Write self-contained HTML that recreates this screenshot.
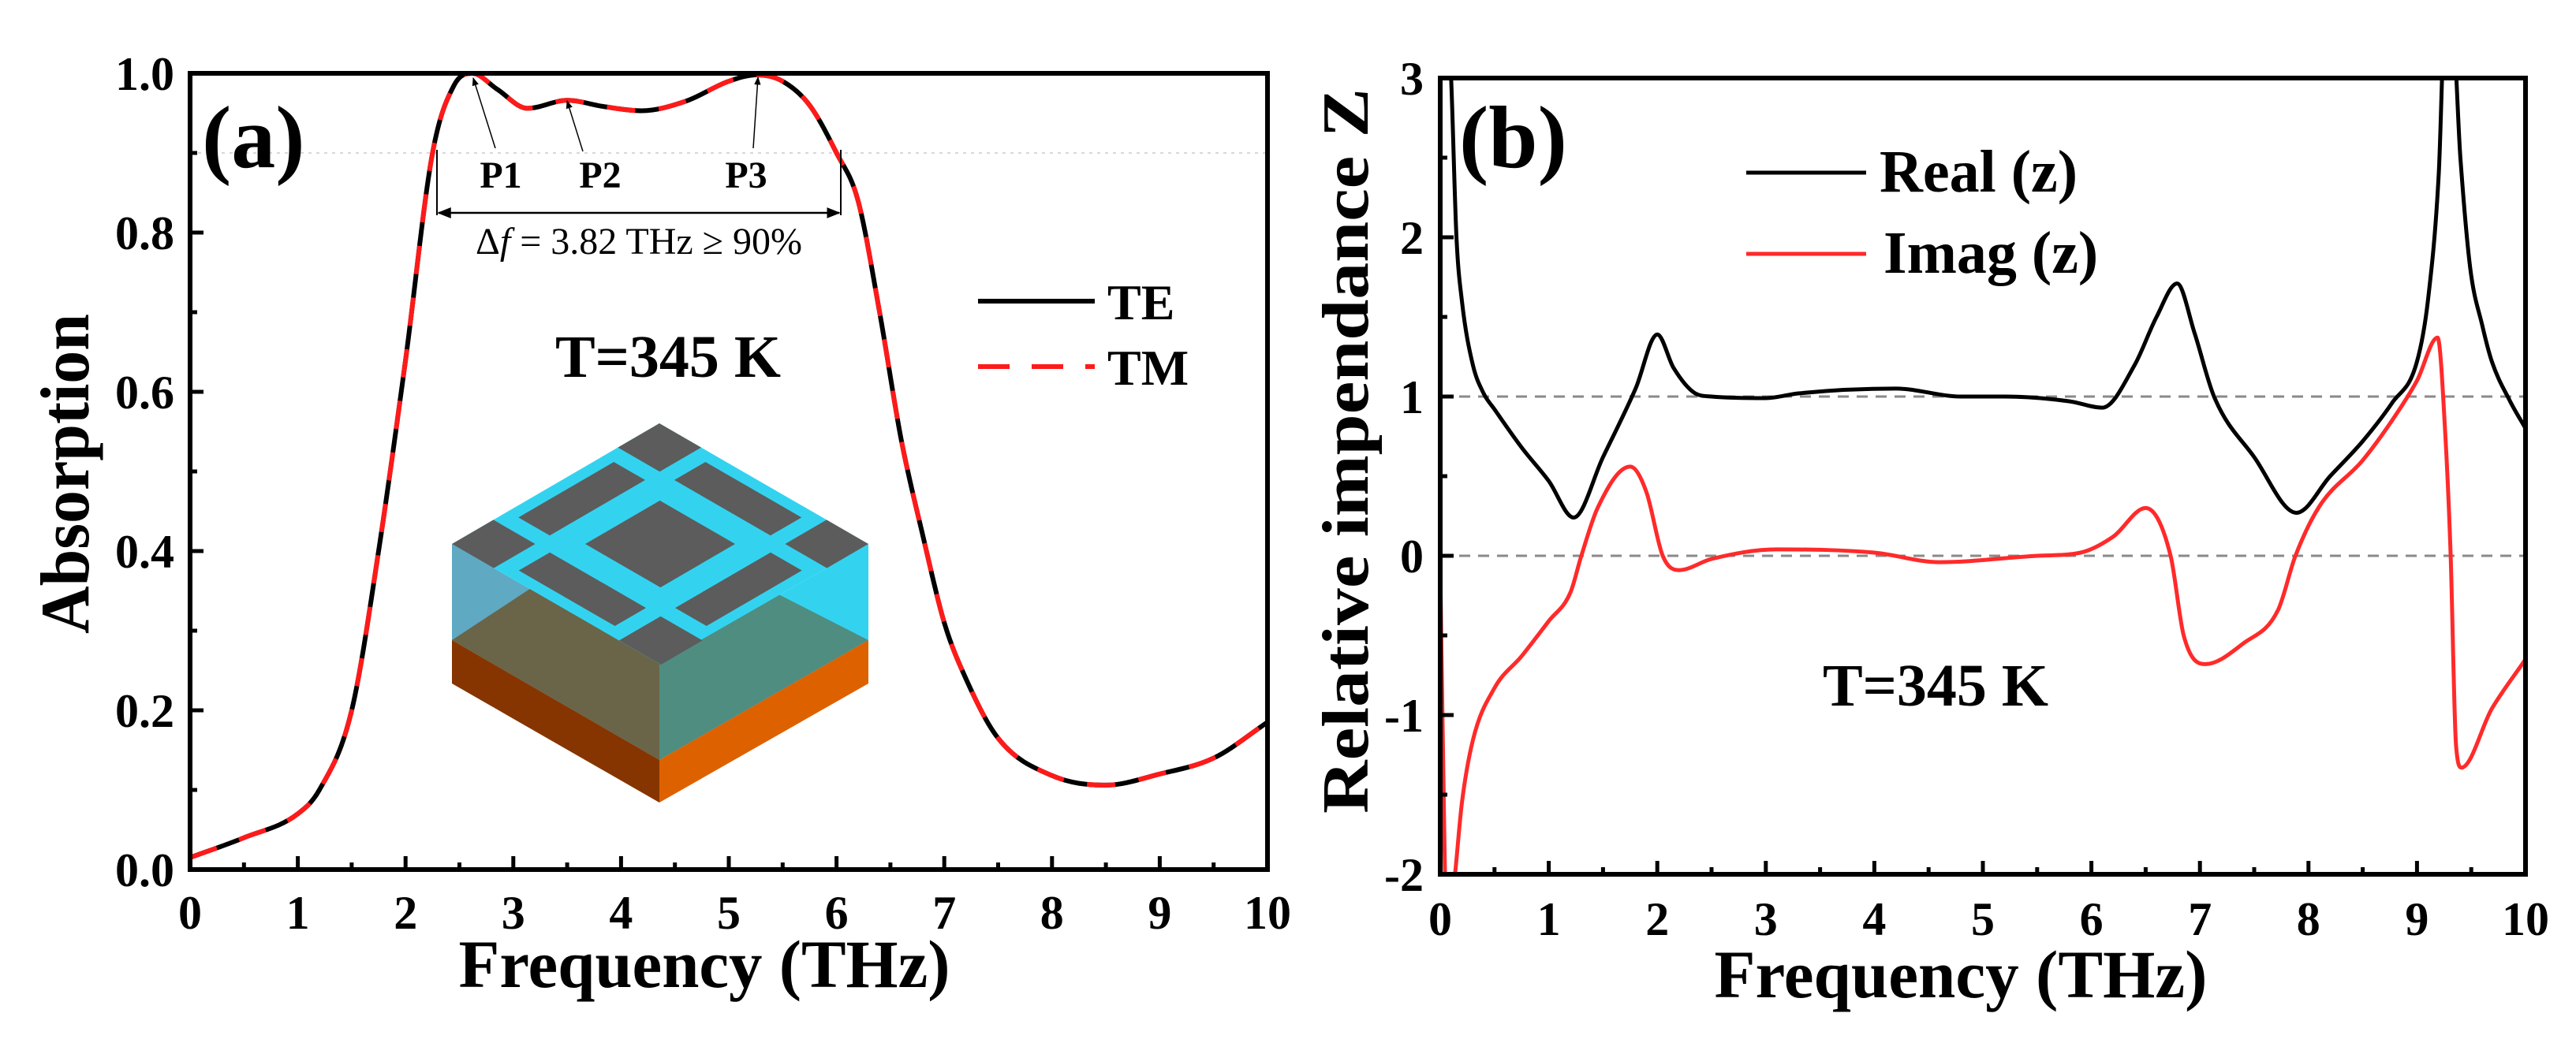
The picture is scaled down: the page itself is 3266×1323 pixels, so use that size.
<!DOCTYPE html>
<html><head><meta charset="utf-8"><style>
html,body{margin:0;padding:0;background:#fff;}
svg{display:block;font-family:"Liberation Serif",serif;}
</style></head><body>
<svg id="fig" width="3266" height="1323" viewBox="0 0 3266 1323" xmlns="http://www.w3.org/2000/svg">
<defs>
<clipPath id="clipA"><rect x="241" y="93" width="1366" height="1010"/></clipPath>
<clipPath id="clipB"><rect x="1826" y="99" width="1376" height="1010"/></clipPath>
<marker id="arr" viewBox="0 0 10 10" refX="9" refY="5" markerWidth="7" markerHeight="7" orient="auto-start-reverse"><path d="M0,1 L10,5 L0,9 z" fill="#000"/></marker>
</defs>
<g id="panelA"></g>
<g id="panelB"></g>
</svg>
<script>
// ---------- Panel (a) data ----------
const absFreq = [0,0.5,1,1.2,1.5,1.75,2.0,2.25,2.45,2.62,2.85,3.13,3.5,3.85,4.19,4.6,5.0,5.26,5.5,5.75,6.0,6.2,6.4,6.6,6.8,7.0,7.2,7.5,8.0,8.5,9.0,9.5,10];
const absTE   = [0.015,0.04,0.07,0.1,0.2,0.4,0.64,0.9,0.985,1.0,0.98,0.956,0.966,0.958,0.953,0.965,0.99,0.998,0.99,0.96,0.9,0.84,0.7,0.54,0.42,0.31,0.24,0.165,0.118,0.106,0.12,0.14,0.185];
const absTM   = absTE.slice();
const aXTicks = [0,1,2,3,4,5,6,7,8,9,10];
const aYTicks = [0.0,0.2,0.4,0.6,0.8,1.0];
const aYLabels = ["0.0","0.2","0.4","0.6","0.8","1.0"];
// ---------- Panel (b) data ----------
const reFreq = [0.02,0.1,0.15,0.2,0.3,0.4,0.5,0.75,1.0,1.23,1.5,1.8,2.0,2.15,2.35,2.5,3.0,3.3,4.2,4.8,5.2,5.8,6.1,6.4,6.6,6.79,6.95,7.13,7.5,7.89,8.2,8.5,8.77,9.0,9.1,9.2,9.26,9.32,9.4,9.49,9.6,9.69,9.85,10];
const reVal  = [4.0,3.0,2.0,1.6,1.2,1.02,0.92,0.68,0.47,0.24,0.62,1.05,1.39,1.18,1.02,1.0,0.99,1.02,1.05,1.0,1.0,0.97,0.93,1.2,1.5,1.71,1.4,1.0,0.62,0.27,0.5,0.72,0.96,1.22,1.6,2.39,3.4,3.4,2.5,1.81,1.45,1.22,0.98,0.8];
const imFreq = [0.0,0.02,0.06,0.12,0.2,0.3,0.5,0.75,1.0,1.2,1.3,1.45,1.75,1.9,2.05,2.2,2.5,3.1,4.0,4.6,5.5,5.9,6.2,6.5,6.73,6.85,7.05,7.4,7.72,7.88,8.1,8.5,8.77,9.0,9.19,9.26,9.31,9.36,9.41,9.69,10];
const imVal  = [-0.05,-1.0,-2.3,-2.1,-1.55,-1.16,-0.83,-0.63,-0.41,-0.23,0.0,0.3,0.56,0.4,0.0,-0.09,-0.02,0.04,0.02,-0.04,0.0,0.02,0.12,0.3,0.0,-0.5,-0.68,-0.55,-0.34,0.0,0.31,0.6,0.85,1.1,1.37,0.77,0.0,-1.19,-1.33,-0.96,-0.65];
const bXTicks = [0,1,2,3,4,5,6,7,8,9,10];
const bYTicks = [-2,-1,0,1,2,3];

const NS = "http://www.w3.org/2000/svg";
function mk(parent, tag, attrs, text){
  const e = document.createElementNS(NS, tag);
  for (const k in attrs) e.setAttribute(k, attrs[k]);
  if (text !== undefined) e.textContent = text;
  parent.appendChild(e);
  return e;
}
function smoothPath(xs, ys){
  const n = xs.length; const d=[], m=[];
  for (let i=0;i<n-1;i++) d.push((ys[i+1]-ys[i])/(xs[i+1]-xs[i]));
  m[0]=d[0]; m[n-1]=d[n-2];
  for (let i=1;i<n-1;i++){ m[i] = (d[i-1]*d[i]<=0)?0:(d[i-1]+d[i])/2; }
  for (let i=0;i<n-1;i++){
    if (d[i]===0){m[i]=0;m[i+1]=0;continue;}
    const a=m[i]/d[i], b=m[i+1]/d[i], s=a*a+b*b;
    if (s>9){const t=3/Math.sqrt(s); m[i]=t*a*d[i]; m[i+1]=t*b*d[i];}
  }
  let p = "M"+xs[0].toFixed(1)+","+ys[0].toFixed(1);
  for (let i=0;i<n-1;i++){
    const h=(xs[i+1]-xs[i])/3;
    p += " C"+(xs[i]+h).toFixed(1)+","+(ys[i]+m[i]*h).toFixed(1)+" "+(xs[i+1]-h).toFixed(1)+","+(ys[i+1]-m[i+1]*h).toFixed(1)+" "+xs[i+1].toFixed(1)+","+ys[i+1].toFixed(1);
  }
  return p;
}
function txt(g, x, y, s, size, extra){
  const a = Object.assign({x:x,y:y,"font-size":size,"font-family":"Liberation Serif, serif","font-weight":"bold",fill:"#000"}, extra||{});
  return mk(g,"text",a,s);
}

// ================= Panel A =================
(function(){
  const g = document.getElementById("panelA");
  const L=241,R=1607,T=93,B=1103;
  const xs = f => L + (f/10)*(R-L);
  const ys = v => B - (v/1.0)*(B-T);
  let e = mk(g,"line",{x1:L,x2:R,y1:ys(0.9),y2:ys(0.9),stroke:"#d8d8d8","stroke-width":2,"stroke-dasharray":"4 6"});
   
  const cube = mk(g,"g",{});
   
  const Tp=[836,537], Lp=[573,690], Rp=[1101,690], Fp=[836,842];
  const poly=(pts,fill)=>mk(cube,"polygon",{points:pts.map(p=>p.join(",")).join(" "),fill:fill});
  poly([Lp,Fp,[836,964],[573,812]],"#5fa9c3");
  poly([Fp,Rp,[1101,812],[836,964]],"#33d3f0");
  poly([[573,812],[690,735],[836,713],[836,964]],"#6a6548");
  poly([[836,713],[950,735],[1101,812],[836,964]],"#4f8d80");
  poly([[573,812],[836,964],[836,1018],[573,867]],"#863500");
  poly([[836,964],[1101,812],[1101,867],[836,1018]],"#de6100");
  poly([Tp,Rp,Fp,Lp],"#33d3f0");
  const uv=(u,v)=>[Tp[0]+u*(Rp[0]-Tp[0])+v*(Lp[0]-Tp[0]), Tp[1]+u*(Rp[1]-Tp[1])+v*(Lp[1]-Tp[1])];
  const rq=(u0,u1,v0,v1)=>poly([uv(u0,v0),uv(u1,v0),uv(u1,v1),uv(u0,v1)],"#5c5c5c");
  rq(0,0.2,0,0.2); rq(0.8,1,0,0.2); rq(0,0.2,0.8,1); rq(0.8,1,0.8,1);
  rq(0.32,0.68,0.32,0.68);
  rq(0.27,0.73,0.05,0.2); rq(0.27,0.73,0.8,0.95); rq(0.05,0.2,0.27,0.73); rq(0.8,0.95,0.27,0.73);
  const px = absFreq.map(xs);
  const te = mk(g,"path",{d:smoothPath(px,absTE.map(ys)),fill:"none",stroke:"#000","stroke-width":6,"clip-path":"url(#clipA)"});
   
  const tm = mk(g,"path",{d:smoothPath(px,absTM.map(ys)),fill:"none",stroke:"#ff1a1a","stroke-width":6,"stroke-dasharray":"36 30","clip-path":"url(#clipA)"});
   
  const ann = mk(g,"g",{});
   
  mk(ann,"line",{x1:554,x2:554,y1:190,y2:273,stroke:"#000","stroke-width":2});
  mk(ann,"line",{x1:1066,x2:1066,y1:190,y2:273,stroke:"#000","stroke-width":2});
  mk(ann,"line",{x1:556,x2:1064,y1:270,y2:270,stroke:"#000","stroke-width":2.5,"marker-start":"url(#arr)","marker-end":"url(#arr)"});
  const dt = mk(ann,"text",{x:810,y:322,"font-size":48,"text-anchor":"middle","font-family":"Liberation Serif, serif"});
  dt.innerHTML = '&#916;<tspan font-style="italic">f</tspan> = 3.82 THz &#8805; 90%';
  [["P1",635,[628,188],[600,99]],["P2",761,[739,192],[719,128]],["P3",946,[955,188],[961,98]]].forEach(p=>{
    const t=txt(ann,p[1],238,p[0],48,{"text-anchor":"middle"});
     
    mk(ann,"line",{x1:p[2][0],y1:p[2][1],x2:p[3][0],y2:p[3][1],stroke:"#000","stroke-width":1.5,"marker-end":"url(#arr)"});
  });
  const fr = mk(g,"rect",{x:L,y:T,width:R-L,height:B-T,fill:"none",stroke:"#000","stroke-width":6});
   
  aXTicks.forEach(f=>{
    mk(g,"line",{x1:xs(f),x2:xs(f),y1:B,y2:B-17,stroke:"#000","stroke-width":5});
    if (f<10) mk(g,"line",{x1:xs(f+0.5),x2:xs(f+0.5),y1:B,y2:B-9,stroke:"#000","stroke-width":5});
    const t=txt(g,xs(f),1178,String(f),60,{"text-anchor":"middle"});
     
  });
  aYTicks.forEach((v,i)=>{
    mk(g,"line",{x1:L,x2:L+17,y1:ys(v),y2:ys(v),stroke:"#000","stroke-width":5});
    if (v<1) mk(g,"line",{x1:L,x2:L+9,y1:ys(v+0.1),y2:ys(v+0.1),stroke:"#000","stroke-width":5});
    const t=txt(g,221,ys(v)+21,aYLabels[i],60,{"text-anchor":"end"});
     
  });
  let t;
  t=txt(g,893,1252,"Frequency (THz)",86,{"text-anchor":"middle",textLength:623,lengthAdjust:"spacingAndGlyphs"});
   
  t=txt(g,0,0,"Absorption",88,{"text-anchor":"middle",transform:"translate(112,601) rotate(-90)",textLength:406,lengthAdjust:"spacingAndGlyphs"});
   
  t=txt(g,256,212,"(a)",112,{});
   
  t=txt(g,847,478,"T=345 K",76,{"text-anchor":"middle"});
   
  const lg = mk(g,"g",{});
   
  mk(lg,"line",{x1:1240,x2:1388,y1:382,y2:382,stroke:"#000","stroke-width":6});
  txt(lg,1404,405,"TE",64,{});
  mk(lg,"line",{x1:1240,x2:1388,y1:465,y2:465,stroke:"#ff1a1a","stroke-width":6,"stroke-dasharray":"40 28"});
  txt(lg,1404,488,"TM",64,{});
})();

// ================= Panel B =================
(function(){
  const g = document.getElementById("panelB");
  const L=1826,R=3202,T=99,B=1109;
  const xs = f => L + (f/10)*(R-L);
  const ys = v => B - ((v+2)/5)*(B-T);
  [1,0].forEach(v=>{
    const e=mk(g,"line",{x1:L,x2:R,y1:ys(v),y2:ys(v),stroke:"#8a8a8a","stroke-width":3,"stroke-dasharray":"14 10"});
     
  });
  const re = mk(g,"path",{d:smoothPath(reFreq.map(xs),reVal.map(ys)),fill:"none",stroke:"#000","stroke-width":5,"clip-path":"url(#clipB)"});
   
  const im = mk(g,"path",{d:smoothPath(imFreq.map(xs),imVal.map(ys)),fill:"none",stroke:"#ff2a2a","stroke-width":5,"clip-path":"url(#clipB)"});
   
  const fr = mk(g,"rect",{x:L,y:T,width:R-L,height:B-T,fill:"none",stroke:"#000","stroke-width":6});
   
  bXTicks.forEach(f=>{
    mk(g,"line",{x1:xs(f),x2:xs(f),y1:B,y2:B-17,stroke:"#000","stroke-width":5});
    if (f<10) mk(g,"line",{x1:xs(f+0.5),x2:xs(f+0.5),y1:B,y2:B-9,stroke:"#000","stroke-width":5});
    const t=txt(g,xs(f),1186,String(f),60,{"text-anchor":"middle"});
     
  });
  bYTicks.forEach(v=>{
    mk(g,"line",{x1:L,x2:L+17,y1:ys(v),y2:ys(v),stroke:"#000","stroke-width":5});
    if (v<3) mk(g,"line",{x1:L,x2:L+9,y1:ys(v+0.5),y2:ys(v+0.5),stroke:"#000","stroke-width":5});
    const t=txt(g,1805,ys(v)+21,String(v),60,{"text-anchor":"end"});
     
  });
  let t;
  t=txt(g,2486,1265,"Frequency (THz)",86,{"text-anchor":"middle",textLength:625,lengthAdjust:"spacingAndGlyphs"});
   
  t=txt(g,0,0,"Relative impendance Z",84,{"text-anchor":"middle",transform:"translate(1734,572) rotate(-90)",textLength:920,lengthAdjust:"spacingAndGlyphs"});
   
  t=txt(g,1850,212,"(b)",112,{});
   
  t=txt(g,2454,895,"T=345 K",76,{"text-anchor":"middle"});
   
  const lg = mk(g,"g",{});
   
  mk(lg,"line",{x1:2214,x2:2366,y1:219,y2:219,stroke:"#000","stroke-width":5});
  txt(lg,2383,243,"Real (z)",76,{});
  mk(lg,"line",{x1:2214,x2:2366,y1:322,y2:322,stroke:"#ff2a2a","stroke-width":5});
  txt(lg,2388,346,"Imag (z)",76,{});
})();
</script>
</body></html>
